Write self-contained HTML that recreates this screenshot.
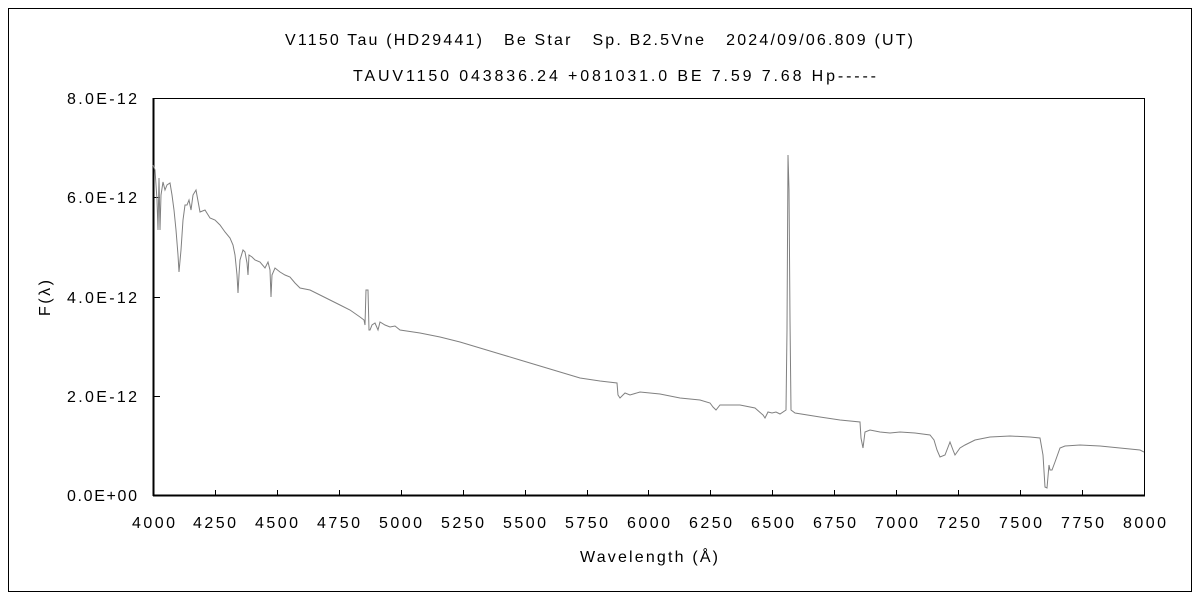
<!DOCTYPE html>
<html><head><meta charset="utf-8"><style>
body{margin:0;background:#fff;}
svg text{font-family:"Liberation Sans",sans-serif;font-size:16px;fill:#000;}
</style></head><body>
<svg width="1200" height="600" xmlns="http://www.w3.org/2000/svg">
<rect x="0" y="0" width="1200" height="600" fill="#fff"/>
<rect x="8.5" y="8.5" width="1183" height="583" fill="none" stroke="#000" stroke-width="1"/>
<text x="285" y="45" textLength="628" lengthAdjust="spacing" xml:space="preserve">V1150 Tau (HD29441)   Be Star   Sp. B2.5Vne   2024/09/06.809 (UT)</text>
<text x="353" y="81" textLength="523" lengthAdjust="spacing">TAUV1150 043836.24 +081031.0 BE 7.59 7.68 Hp-----</text>
<rect x="153.5" y="98.5" width="991" height="397" fill="none" stroke="#000" stroke-width="1"/>
<g stroke="#000" stroke-width="1">
<line x1="153" y1="495.5" x2="1145" y2="495.5" stroke-width="2"/>
<line x1="153.5" y1="98" x2="153.5" y2="496" stroke-width="2"/>
<line x1="153" y1="98.5" x2="160" y2="98.5"/>
<line x1="153" y1="197.5" x2="160" y2="197.5"/>
<line x1="153" y1="297.5" x2="160" y2="297.5"/>
<line x1="153" y1="396.5" x2="160" y2="396.5"/>
<line x1="215.5" y1="495" x2="215.5" y2="490"/><line x1="277.5" y1="495" x2="277.5" y2="490"/><line x1="339.5" y1="495" x2="339.5" y2="490"/><line x1="401.5" y1="495" x2="401.5" y2="490"/><line x1="463.5" y1="495" x2="463.5" y2="490"/><line x1="525.5" y1="495" x2="525.5" y2="490"/><line x1="587.5" y1="495" x2="587.5" y2="490"/><line x1="648.5" y1="495" x2="648.5" y2="490"/><line x1="710.5" y1="495" x2="710.5" y2="490"/><line x1="772.5" y1="495" x2="772.5" y2="490"/><line x1="834.5" y1="495" x2="834.5" y2="490"/><line x1="896.5" y1="495" x2="896.5" y2="490"/><line x1="958.5" y1="495" x2="958.5" y2="490"/><line x1="1020.5" y1="495" x2="1020.5" y2="490"/><line x1="1082.5" y1="495" x2="1082.5" y2="490"/>
</g>
<polyline fill="none" stroke="#808080" stroke-width="1" points="153,165 155,170 157,200 158,230 159,178 160,230 161,195 163,182 165,190 167,185 170,183 172,195 174,210 176,230 178,255 179,272 181,250 183,220 185,205 187,205 189,200 191,210 193,195 196,190 200,212 205,210 210,218 215,220 220,225 225,232 230,238 233,245 235,255 237,275 238,293 239,275 240,260 243,250 245,252 247,263 248,275 249,255 252,257 255,260 260,262 265,268 268,262 270,270 271,297 272,275 275,268 280,272 285,275 290,277 295,283 300,288 310,290 320,295 330,300 340,305 350,310 360,317 364,320 365,325 366,290 368,290 369,330 370,330 372,325 375,323 378,330 380,322 385,325 390,327 395,326 400,330 420,333 440,337 460,342 480,348 500,354 520,360 540,366 560,372 580,378 600,381 617,383 618,395 620,398 625,393 630,395 640,392 660,394 680,398 700,400 710,403 713,407 716,410 720,405 740,405 755,408 763,415 765,418 768,412 772,413 776,412 780,414 786,410 787,330 788,155 789,190 790,320 791,410 795,413 820,417 840,420 860,422 861,438 863,448 865,432 870,430 880,432 890,433 900,432 915,433 930,435 934,440 937,450 940,457 945,455 950,442 953,450 955,455 960,448 965,445 975,440 990,437 1010,436 1030,437 1040,438 1043,455 1045,487 1047,488 1049,465 1050,470 1052,470 1055,462 1060,448 1065,446 1080,445 1100,446 1120,448 1140,450 1144,452"/>
<g>
<text x="67" y="104" textLength="70" lengthAdjust="spacing">8.0E-12</text>
<text x="67" y="203" textLength="70" lengthAdjust="spacing">6.0E-12</text>
<text x="67" y="303" textLength="70" lengthAdjust="spacing">4.0E-12</text>
<text x="67" y="402" textLength="70" lengthAdjust="spacing">2.0E-12</text>
<text x="67" y="501" textLength="70" lengthAdjust="spacing">0.0E+00</text>
</g>
<g>
<text x="132" y="528" textLength="43" lengthAdjust="spacing">4000</text><text x="193" y="528" textLength="43" lengthAdjust="spacing">4250</text><text x="255" y="528" textLength="43" lengthAdjust="spacing">4500</text><text x="317" y="528" textLength="43" lengthAdjust="spacing">4750</text><text x="379" y="528" textLength="43" lengthAdjust="spacing">5000</text><text x="441" y="528" textLength="43" lengthAdjust="spacing">5250</text><text x="503" y="528" textLength="43" lengthAdjust="spacing">5500</text><text x="565" y="528" textLength="43" lengthAdjust="spacing">5750</text><text x="627" y="528" textLength="43" lengthAdjust="spacing">6000</text><text x="689" y="528" textLength="43" lengthAdjust="spacing">6250</text><text x="751" y="528" textLength="43" lengthAdjust="spacing">6500</text><text x="813" y="528" textLength="43" lengthAdjust="spacing">6750</text><text x="875" y="528" textLength="43" lengthAdjust="spacing">7000</text><text x="937" y="528" textLength="43" lengthAdjust="spacing">7250</text><text x="999" y="528" textLength="43" lengthAdjust="spacing">7500</text><text x="1061" y="528" textLength="43" lengthAdjust="spacing">7750</text><text x="1123" y="528" textLength="43" lengthAdjust="spacing">8000</text>
<text x="580" y="562" textLength="138" lengthAdjust="spacing">Wavelength (Å)</text>
</g>
<text x="0" y="0" textLength="36" lengthAdjust="spacing" transform="translate(50,316) rotate(-90)">F(λ)</text>
</svg>
</body></html>
